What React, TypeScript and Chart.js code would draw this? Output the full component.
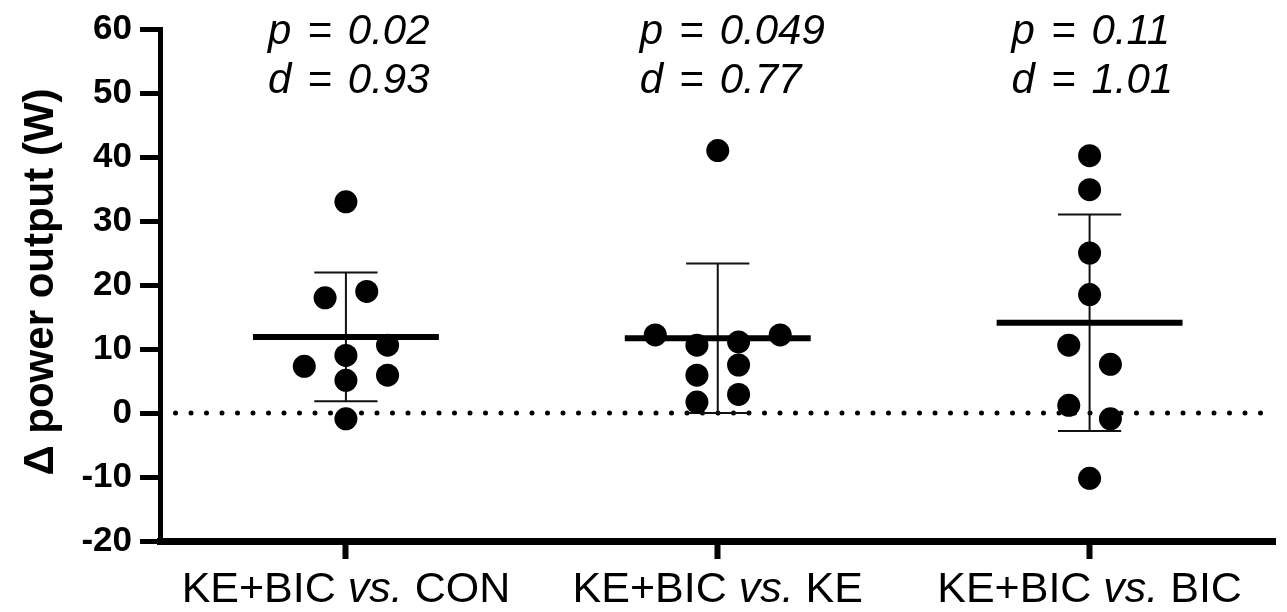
import React, { useEffect, useRef } from "react";
import { Chart, registerables } from "chart.js";

Chart.register(...registerables);

// ---- data (listed in data-table order) ----
const categories = ["KE+BIC vs. CON", "KE+BIC vs. KE", "KE+BIC vs. BIC"];
const vsConValues = [33.0, 18.0, 19.0, -0.9, 5.1, 5.9, 7.3, 9.0, 10.6];
const vsKeValues = [41.0, 1.7, 2.9, 5.9, 7.5, 10.6, 11.1, 12.2, 12.2];
const vsBicValues = [40.2, 34.9, 25.0, 18.5, 10.6, 7.6, 1.2, -0.9, -10.2];
const pValues = ["0.02", "0.049", "0.11"];
const dValues = ["0.93", "0.77", "1.01"];
const yMin = -20;
const yMax = 60;
const yStep = 10;
const yTitle = "Δ power output (W)";

const groups = [vsConValues, vsKeValues, vsBicValues];
const FONT = '"Liberation Sans", Arial, Helvetica, sans-serif';

function mean(a: number[]) {
  return a.reduce((s, v) => s + v, 0) / a.length;
}
function sd(a: number[]) {
  const m = mean(a);
  return Math.sqrt(a.reduce((s, v) => s + (v - m) * (v - m), 0) / (a.length - 1));
}

// column-scatter layout: points placed in table order into the nearest free slot,
// then each vertically-touching cluster is re-centred
function swarmSlots(values: number[], thr: number): number[] {
  const slot = new Array(values.length).fill(0);
  const placed: number[] = [];
  const cands = [0, 1, -1, 2, -2, 3, -3, 4, -4];
  values.forEach((v, i) => {
    for (const c of cands) {
      if (!placed.some((j) => slot[j] === c && Math.abs(values[j] - v) < thr)) {
        slot[i] = c;
        break;
      }
    }
    placed.push(i);
  });
  const idx = values.map((_, i) => i).sort((a, b) => values[a] - values[b]);
  let start = 0;
  for (let k = 1; k <= idx.length; k++) {
    if (k === idx.length || values[idx[k]] - values[idx[k - 1]] >= thr) {
      const members = idx.slice(start, k);
      const s = members.map((m) => slot[m]);
      const shift = (Math.min(...s) + Math.max(...s)) / 2;
      members.forEach((m) => (slot[m] -= shift));
      start = k;
    }
  }
  return slot;
}

const textPlugin = {
  id: "textPlugin",
  afterDraw(chart: any) {
    const ctx = chart.ctx as CanvasRenderingContext2D;
    const xs = chart.scales.x;
    ctx.save();
    ctx.fillStyle = "#000";

    // y axis title
    ctx.save();
    ctx.translate(41, 282);
    ctx.rotate(-Math.PI / 2);
    ctx.font = `bold 42px ${FONT}`;
    ctx.textAlign = "center";
    ctx.textBaseline = "middle";
    ctx.fillText(yTitle, 0, 0);
    ctx.restore();

    // category labels with italic "vs."
    ctx.textBaseline = "alphabetic";
    ctx.textAlign = "left";
    categories.forEach((label, i) => {
      const parts = label.split("vs.");
      const segs: [string, string][] = [
        [parts[0], `43px ${FONT}`],
        ["vs.", `italic 43px ${FONT}`],
        [parts[1], `43px ${FONT}`],
      ];
      let total = 0;
      segs.forEach(([t, f]) => {
        ctx.font = f;
        total += ctx.measureText(t).width;
      });
      let x = xs.getPixelForValue(i) - total / 2;
      segs.forEach(([t, f]) => {
        ctx.font = f;
        ctx.fillText(t, x, 602);
        x += ctx.measureText(t).width;
      });
    });

    // p / d annotations
    ctx.font = `italic 42px ${FONT}`;
    const gap = 16;
    categories.forEach((_, i) => {
      const left = xs.getPixelForValue(i) - 78;
      const lines: [string, number][] = [
        ["p", 44],
        ["d", 93],
      ];
      lines.forEach(([sym, base], li) => {
        const val = li === 0 ? pValues[i] : dValues[i];
        let x = left;
        [sym, "=", val].forEach((t) => {
          ctx.fillText(t, x, base);
          x += ctx.measureText(t).width + gap;
        });
      });
    });
    ctx.restore();
  },
};

export default function App() {
  const ref = useRef<HTMLCanvasElement | null>(null);

  useEffect(() => {
    if (!ref.current) return;
    const step = 0.112;
    const halfMean = 0.25;
    const halfCap = 0.085;
    const datasets: any[] = [];

    datasets.push({
      data: [
        { x: -0.5, y: 0 },
        { x: 2.5, y: 0 },
      ],
      showLine: true,
      borderColor: "#000",
      borderWidth: 5,
      borderDash: [0, 15.5],
      borderCapStyle: "round",
      pointRadius: 0,
      order: 10,
    });

    groups.forEach((vals, g) => {
      const m = mean(vals);
      const s = sd(vals);
      const slots = swarmSlots(vals, 3.3);
      const line = (pts: { x: number; y: number }[], w: number, color: string, order: number) => ({
        data: pts,
        showLine: true,
        borderColor: color,
        borderWidth: w,
        borderCapStyle: "butt",
        pointRadius: 0,
        order,
      });
      datasets.push(line([{ x: g, y: m - s }, { x: g, y: m + s }], 2, "#111", 6));
      datasets.push(line([{ x: g - halfCap, y: m + s }, { x: g + halfCap, y: m + s }], 2, "#111", 6));
      datasets.push(line([{ x: g - halfCap, y: m - s }, { x: g + halfCap, y: m - s }], 2, "#111", 6));
      datasets.push(line([{ x: g - halfMean, y: m }, { x: g + halfMean, y: m }], 6, "#000", 5));
      datasets.push({
        data: vals.map((v, i) => ({ x: g + slots[i] * step, y: v })),
        showLine: false,
        pointRadius: 11.5,
        pointBackgroundColor: "#000",
        pointBorderWidth: 0,
        pointBorderColor: "#000",
        order: 0,
      });
    });

    const chart = new Chart(ref.current, {
      type: "scatter",
      data: { datasets },
      options: {
        animation: false,
        responsive: false,
        events: [],
        layout: { padding: { top: 23, right: 5, left: 0, bottom: 0 } },
        plugins: { legend: { display: false }, tooltip: { enabled: false } },
        scales: {
          x: {
            type: "linear",
            min: -0.5,
            max: 2.5,
            afterBuildTicks: (s: any) => {
              s.ticks = categories.map((_, i) => ({ value: i }));
            },
            afterFit: (s: any) => {
              s.height = 71;
            },
            ticks: { display: false },
            grid: {
              drawOnChartArea: false,
              drawTicks: true,
              tickLength: 18,
              tickWidth: 6,
              tickColor: "#000",
            },
            border: { display: true, color: "#000", width: 7 },
          },
          y: {
            min: yMin,
            max: yMax,
            afterFit: (s: any) => {
              s.width = 160;
            },
            ticks: {
              stepSize: yStep,
              color: "#000",
              padding: 8,
              font: { family: FONT, size: 35, weight: "bold" },
            },
            grid: {
              drawOnChartArea: false,
              drawTicks: true,
              tickLength: 20,
              tickWidth: 5,
              tickColor: "#000",
            },
            border: { display: true, color: "#000", width: 5 },
          },
        },
      } as any,
      plugins: [textPlugin],
    });
    return () => chart.destroy();
  }, []);

  return (
    <canvas
      ref={ref}
      width={1287}
      height={612}
      style={{ position: "absolute", left: 0, top: 0, display: "block" }}
    />
  );
}
